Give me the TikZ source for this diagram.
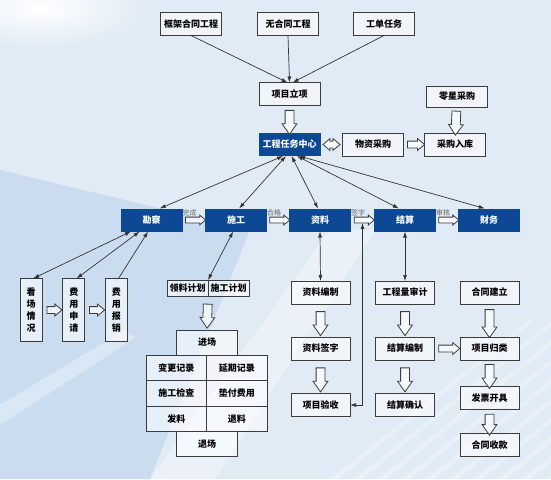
\documentclass[tikz,border=0pt]{standalone}
\usepackage{fontspec}
\setmainfont{Noto Sans CJK SC}
\usetikzlibrary{shapes.arrows,arrows.meta}
\definecolor{taskblue}{RGB}{12,72,148}
\definecolor{boxline}{RGB}{60,60,60}
\definecolor{bgblue}{RGB}{224,235,246}
\definecolor{bgdeep}{RGB}{202,221,240}
\begin{document}
\begin{tikzpicture}[x=1pt,y=-1pt,
  every node/.style={outer sep=0pt,inner sep=0pt,font=\fontsize{9}{11}\selectfont\bfseries},
  box/.style={draw=boxline,line width=0.9pt,fill=white,fill opacity=0.55,text opacity=1,minimum width=61pt,minimum height=23pt},
  task/.style={fill=taskblue,text=white,minimum width=62pt,minimum height=23pt},
  vbox/.style={box,minimum width=22pt,minimum height=63pt,align=center,font=\fontsize{9}{12}\selectfont\bfseries},
  cell/.style={box,minimum width=60.5pt,minimum height=25.3pt},
  fat/.style={single arrow,draw=boxline,line width=0.8pt,fill=white,fill opacity=0.7,sloped,allow upside down,inner sep=4pt,single arrow head extend=3pt,single arrow tip angle=70},
  midfat/.style={fat,inner sep=3pt,single arrow head extend=2.5pt,single arrow tip angle=80},
  thinfat/.style={fat,inner sep=2.5pt,single arrow head extend=2pt,single arrow tip angle=80},
  fatboth/.style={double arrow,draw=boxline,line width=0.8pt,fill=white,fill opacity=0.7,sloped,allow upside down,inner sep=3pt,double arrow head extend=2.5pt,double arrow tip angle=80},
  ar/.style={-{Latex[length=6pt,width=4pt]},line width=0.7pt,draw=black!80},
  lk/.style={{Latex[length=6pt,width=4pt]}-{Latex[length=6pt,width=4pt]},line width=0.7pt,draw=black!80},
  lbl/.style={font=\fontsize{7}{8}\selectfont,text=black!60}]
\useasboundingbox (0,0) rectangle (551,479);
\fill[bgblue] (0,0) rectangle (551,479);
\begin{scope}
\clip (0,0) rectangle (551,479);
\shade[inner color=white,outer color=bgblue] (40,8) ellipse (110 and 40);
\fill[bgdeep] (0,170) -- (250,230) -- (150,479) -- (0,479) -- cycle;
\fill[white,opacity=0.35] (150,479) -- (330,230) -- (375,230) -- (215,479) -- cycle;
\fill[white,opacity=0.3] (0,405) -- (125,330) -- (135,338) -- (0,425) -- cycle;
\foreach \k in {0,...,9}
  \fill[white,opacity=0.3] ({330+24*\k},479) -- ({530+24*\k},319) -- ({536+24*\k},319) -- ({338+24*\k},479) -- cycle;
\end{scope}

\node[box] (kj) at (191,24) {框架合同工程};
\node[box] (wh) at (288,24) {无合同工程};
\node[box] (gd) at (384,24) {工单任务};
\node[box] (lx) at (289.5,94) {项目立项};
\node[task] (zx) at (289.5,144.5) {工程任务中心};
\node[box] (wz) at (373,144.5) {物资采购};
\node[box] (rk) at (455,144.5) {采购入库};
\node[box,minimum height=21pt] (lc) at (457,96.5) {零星采购};

\node[task] (kc) at (151.6,220) {勘察};
\node[task] (sg) at (236,220) {施工};
\node[task] (zl) at (320,220) {资料};
\node[task] (js) at (405,220) {结算};
\node[task] (cw) at (489,220) {财务};

\node[vbox] (kx) at (31,310) {看\\场\\情\\况};
\node[vbox] (fs) at (73.8,310) {费\\用\\申\\请};
\node[vbox] (fb) at (116.3,310) {费\\用\\报\\销};

\node[box,minimum width=41pt,minimum height=16pt] (ll) at (187.5,288) {领料计划};
\node[box,minimum width=41pt,minimum height=16pt] (sj) at (228.5,288) {施工计划};
\node[box,minimum width=61.5pt,minimum height=25pt] (jc) at (207,342.5) {进场};
\node[cell] (bg) at (176.3,368) {变更记录};
\node[cell] (yq) at (236.8,368) {延期记录};
\node[cell] (jx) at (176.3,393.3) {施工检查};
\node[cell] (df) at (236.8,393.3) {垫付费用};
\node[cell] (fl) at (176.3,418.6) {发料};
\node[cell] (tl) at (236.8,418.6) {退料};
\node[box,minimum width=61.5pt,minimum height=25pt] (tc) at (207,443.8) {退场};

\node[box,minimum width=59pt] (zb) at (320.5,292.5) {资料编制};
\node[box,minimum width=59pt] (zq) at (320.5,348.5) {资料签字};
\node[box,minimum width=59pt] (ys) at (320.5,405) {项目验收};
\node[box,minimum width=59pt] (gl) at (405,292.5) {工程量审计};
\node[box,minimum width=59pt] (jb) at (405,348.5) {结算编制};
\node[box,minimum width=59pt] (jq) at (405,405) {结算确认};
\node[box,minimum width=59pt] (hj) at (489.5,292.5) {合同建立};
\node[box,minimum width=59pt] (gs) at (489.5,348.5) {项目归类};
\node[box,minimum width=59pt] (fp) at (489.5,398.3) {发票开具};
\node[box,minimum width=59pt] (hs) at (489.5,444.8) {合同收款};

\draw[ar] (kj.south) -- (lx.100);
\draw[ar] (wh.south) -- (lx.north);
\draw[ar] (gd.south) -- (lx.75);
\path (lx) -- node[fat,minimum height=24pt] {} (zx);
\path (zx) -- node[fatboth,minimum height=17pt] {} (wz);
\path (wz) -- node[midfat,minimum height=17pt] {} (rk);
\path (lc) -- node[fat,minimum height=24pt] {} (rk);

\draw[lk] (zx.-119) -- (kc.55);
\draw[lk] (zx.-107) -- (sg.75);
\draw[lk] (zx.-80) -- (zl.100);
\draw[lk] (zx.-57) -- (js.118);
\draw[lk] (zx.-50) -- (cw.110);

\path (kc) -- node[thinfat,minimum height=20pt] {} node[lbl,pos=0,anchor=south west,yshift=4pt] {完成} (sg);
\path (sg) -- node[thinfat,minimum height=20pt] {} node[lbl,pos=0,anchor=south west,yshift=4pt] {合格} (zl);
\path (zl) -- node[thinfat,minimum height=20pt] (qa) {} node[lbl,pos=0,anchor=south west,yshift=4pt] {签字} (js);
\path (js) -- node[thinfat,minimum height=20pt] {} node[lbl,pos=0,anchor=south west,yshift=4pt] {审核} (cw);

\draw[lk] (kc.-151) -- (kx.86);
\draw[lk] (kc.-136) -- (fs.85);
\draw[ar] (fb.86) -- (kc.-107);
\path (kx) -- node[midfat,minimum height=15pt] {} (fs);
\path (fs) -- node[midfat,minimum height=15pt] {} (fb);

\draw[lk] (sg.-104) -- (ll.north east);
\path (ll.south east) -- node[fat,minimum height=24pt] {} (jc.north);

\draw[lk] (zl.south) -- (zb.north);
\path (zb) -- node[fat,minimum height=24pt] {} (zq);
\path (zq) -- node[fat,minimum height=24pt] {} (ys);
\draw[lk] (qa.-90) |- (ys.east);

\draw[lk] (js.south) -- (gl.north);
\path (gl) -- node[fat,minimum height=24pt] {} (jb);
\path (jb) -- node[fat,minimum height=24pt] {} (jq);
\path (jb) -- node[midfat,minimum height=21pt] {} (gs);

\path (hj) -- node[fat,minimum height=28pt] {} (gs);
\path (gs) -- node[fat,minimum height=24pt] {} (fp);
\path (fp) -- node[fat,minimum height=21pt] {} (hs);
\end{tikzpicture}
\end{document}
